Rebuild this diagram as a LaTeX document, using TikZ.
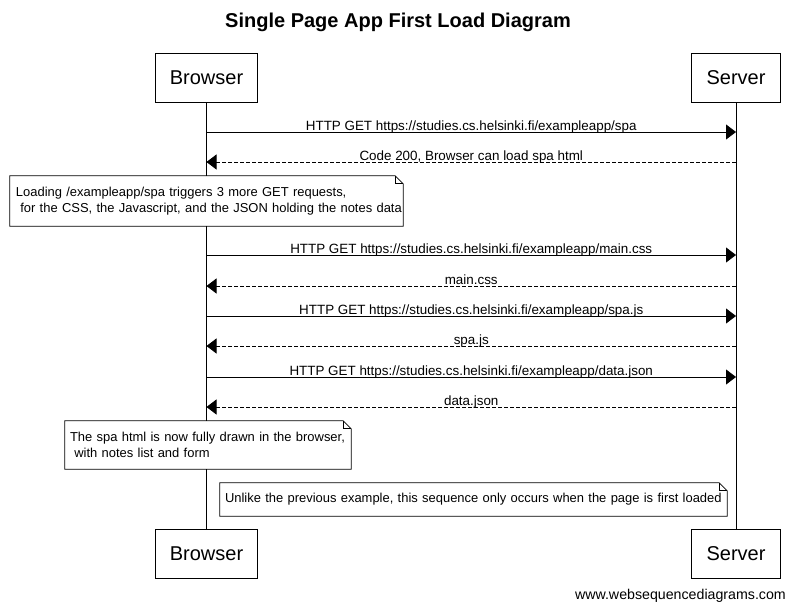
\documentclass[tikz,border=0pt]{standalone}
\usepackage{fontspec}
\setmainfont{Liberation Sans}
\usetikzlibrary{arrows.meta}
\begin{document}
\begin{tikzpicture}[x=1pt,y=-1pt,
  actor/.style={draw,line width=0.8pt,fill=white,minimum width=89pt,minimum height=49pt,inner sep=0pt,font=\fontsize{20}{24}\selectfont},
  life/.style={line width=0.8pt},
  msg/.style={line width=0.8pt,-{Triangle[length=10pt,width=15pt]}},
  ret/.style={msg,dash pattern=on 4pt off 2pt},
  lbl/.style={font=\fontsize{13.4}{15}\selectfont,inner sep=0pt,anchor=base,yshift=2pt},
  notebox/.style={fill=white,inner sep=0pt,align=left,font=\fontsize{12.95}{16}\selectfont},
  noteline/.style={line width=0.8pt}
]
\useasboundingbox (0,0) rectangle (795,613);
\fill[white] (0,0) rectangle (795,613);

\node[font=\fontsize{20}{24}\selectfont\bfseries] (title) at (398,22) {Single Page App First Load Diagram};

% actors
\node[actor,minimum width=102pt] (bt) at (206.5,77.5) {Browser};
\node[actor] (st) at (736,77.5) {Server};
\node[actor,minimum width=102pt] (bb) at (206.5,553.5) {Browser};
\node[actor] (sb) at (736,553.5) {Server};

\draw[life] (bt.south) -- (bb.north);
\draw[life] (st.south) -- (sb.north);

% lifeline coordinates
\foreach \n/\y in {m1/132,m2/162,m3/255,m4/286,m5/316,m6/346,m7/377,m8/407}{
  \coordinate (b\n) at (206.5,\y);
  \coordinate (s\n) at (736,\y);
}

\draw[msg] (bm1) -- node[lbl] (l1) {HTTP GET https://studies.cs.helsinki.fi/exampleapp/spa} (sm1);
\draw[ret] (sm2) -- node[lbl] (l2) {Code 200, Browser can load spa html} (bm2);

% note 1
\node[notebox,minimum width=393pt,minimum height=50pt,text width=381pt] (n1) at (206.5,201) {\mbox{Loading /exampleapp/spa triggers 3 more GET requests,}\\\mbox{\ for the CSS, the Javascript, and the JSON holding the notes data}};
\draw[noteline] (n1.north west) -- ([xshift=-8pt]n1.north east) -- ([yshift=-8pt]n1.north east) -- (n1.south east) -- (n1.south west) -- cycle;
\draw[noteline] ([xshift=-8pt]n1.north east) -- ([xshift=-8pt,yshift=-8pt]n1.north east) -- ([yshift=-8pt]n1.north east);

\draw[msg] (bm3) -- node[lbl] (l3) {HTTP GET https://studies.cs.helsinki.fi/exampleapp/main.css} (sm3);
\draw[ret] (sm4) -- node[lbl] (l4) {main.css} (bm4);
\draw[msg] (bm5) -- node[lbl] (l5) {HTTP GET https://studies.cs.helsinki.fi/exampleapp/spa.js} (sm5);
\draw[ret] (sm6) -- node[lbl] (l6) {spa.js} (bm6);
\draw[msg] (bm7) -- node[lbl] (l7) {HTTP GET https://studies.cs.helsinki.fi/exampleapp/data.json} (sm7);
\draw[ret] (sm8) -- node[lbl] (l8) {data.json} (bm8);

% note 2
\node[notebox,minimum width=286pt,minimum height=48pt,text width=276pt] (n2) at (208,445) {\mbox{The spa html is now fully drawn in the browser,}\\\mbox{\ with notes list and form}};
\draw[noteline] (n2.north west) -- ([xshift=-8pt]n2.north east) -- ([yshift=-8pt]n2.north east) -- (n2.south east) -- (n2.south west) -- cycle;
\draw[noteline] ([xshift=-8pt]n2.north east) -- ([xshift=-8pt,yshift=-8pt]n2.north east) -- ([yshift=-8pt]n2.north east);

% note 3
\node[notebox,minimum width=507pt,minimum height=33pt,text width=497pt] (n3) at (473.5,499.5) {\mbox{Unlike the previous example, this sequence only occurs when the page is first loaded}};
\draw[noteline] (n3.north west) -- ([xshift=-8pt]n3.north east) -- ([yshift=-8pt]n3.north east) -- (n3.south east) -- (n3.south west) -- cycle;
\draw[noteline] ([xshift=-8pt]n3.north east) -- ([xshift=-8pt,yshift=-8pt]n3.north east) -- ([yshift=-8pt]n3.north east);

\node[anchor=east,font=\fontsize{14.2}{17}\selectfont,inner sep=0pt] (foot) at (786,596) {www.websequencediagrams.com};
\end{tikzpicture}
\end{document}
